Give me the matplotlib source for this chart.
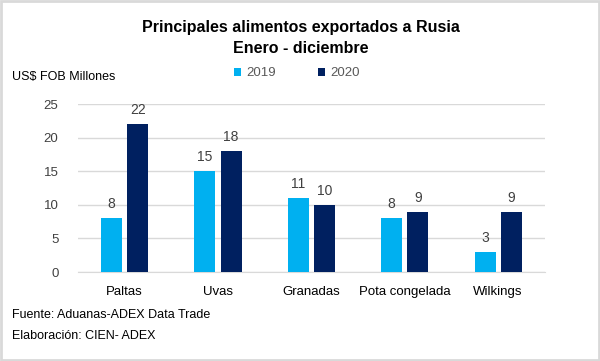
import matplotlib

matplotlib.use("Agg")

import matplotlib.pyplot as plt
import numpy as np
from matplotlib.patches import Rectangle

plt.rcParams["font.family"] = ["Liberation Sans", "DejaVu Sans"]

categories = ["Paltas", "Uvas", "Granadas", "Pota congelada", "Wilkings"]
values_2019 = [8, 15, 11, 8, 3]
values_2020 = [22, 18, 10, 9, 9]
y_ticks = [0, 5, 10, 15, 20, 25]

COLOR_2019 = "#00B0F0"
COLOR_2020 = "#002060"
TEXT_GRAY = "#404040"

fig = plt.figure(figsize=(6, 3.61), dpi=100)
ax = fig.add_axes([0.13, 0.2465, 0.778, 0.4654])

x = np.arange(len(categories))
width = 0.225
offset = 0.14
bars_2019 = ax.bar(x - offset, values_2019, width, color=COLOR_2019, label="2019", zorder=3)
bars_2020 = ax.bar(x + offset, values_2020, width, color=COLOR_2020, label="2020", zorder=3)

for bars in (bars_2019, bars_2020):
    for bar in bars:
        ax.annotate(
            f"{bar.get_height():.0f}",
            (bar.get_x() + bar.get_width() / 2, bar.get_height()),
            xytext=(0, 5),
            textcoords="offset points",
            ha="center",
            va="bottom",
            fontsize=10,
            color=TEXT_GRAY,
        )

ax.set_xlim(-0.5, len(categories) - 0.5)
ax.set_ylim(0, 25)
ax.set_yticks(y_ticks)
ax.set_xticks(x)
ax.set_xticklabels(categories)
ax.yaxis.grid(True, color="#D9D9D9", linewidth=1, zorder=0)
for side in ["top", "right", "left"]:
    ax.spines[side].set_visible(False)
ax.spines["bottom"].set_color("#D9D9D9")
ax.tick_params(axis="both", length=0, labelsize=9.5, colors="#000000")
ax.tick_params(axis="y", pad=14, colors="#404040")
ax.tick_params(axis="x", pad=10)

fig.text(0.502, 0.925, "Principales alimentos exportados a Rusia", ha="center", va="center",
         fontsize=11.5, fontweight="bold")
fig.text(0.502, 0.866, "Enero - diciembre", ha="center", va="center",
         fontsize=11.5, fontweight="bold")
fig.text(0.02, 0.787, "US$ FOB Millones", ha="left", va="center", fontsize=9)

ax.legend(
    loc="center",
    bbox_to_anchor=(0.495, 0.797),
    bbox_transform=fig.transFigure,
    ncol=2,
    frameon=False,
    fontsize=9.5,
    handlelength=0.55,
    handleheight=0.55,
    handletextpad=0.4,
    columnspacing=3.2,
    labelcolor="#595959",
)

fig.text(0.02, 0.127, "Fuente: Aduanas-ADEX Data Trade", ha="left", va="center", fontsize=9)
fig.text(0.02, 0.069, "Elaboración: CIEN- ADEX", ha="left", va="center", fontsize=9)

fig.patches.append(Rectangle((0.002, 0.003), 0.996, 0.994, transform=fig.transFigure,
                             fill=False, edgecolor="#D9D9D9", linewidth=2))

fig.savefig("out.png", dpi=100)
